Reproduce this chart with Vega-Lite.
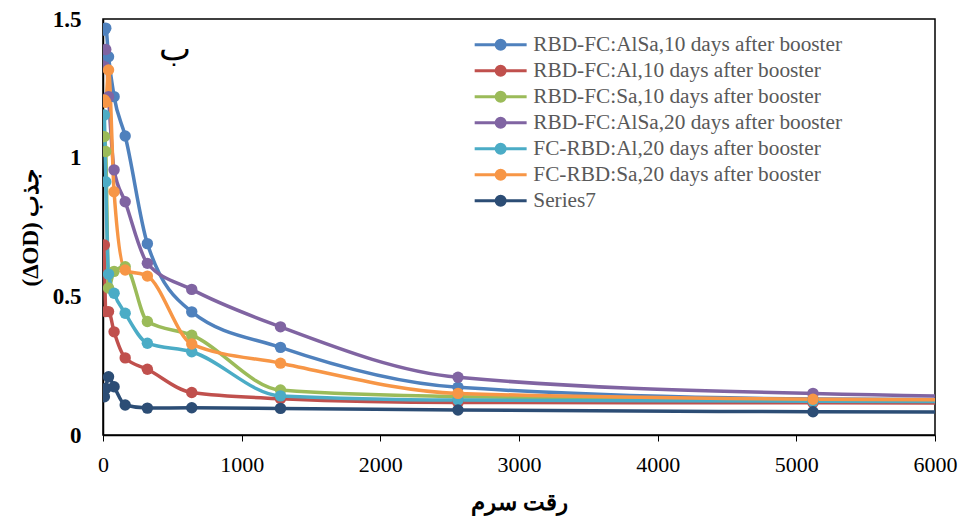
{
  "$schema": "https://vega.github.io/schema/vega-lite/v6.json",
  "width": 832,
  "height": 416,
  "autosize": "none",
  "padding": {"left": 103, "top": 19, "right": 33, "bottom": 89},
  "background": "white",
  "config": {
    "view": {"stroke": "black", "strokeWidth": 1.5},
    "font": "Liberation Serif"
  },
  "datasets": {
    "series": [
      {"s": "RBD-FC:AlSa,10 days after booster", "x": 10, "y": 1.46},
      {"s": "RBD-FC:AlSa,10 days after booster", "x": 20, "y": 1.467},
      {"s": "RBD-FC:AlSa,10 days after booster", "x": 40, "y": 1.364},
      {"s": "RBD-FC:AlSa,10 days after booster", "x": 80, "y": 1.22},
      {"s": "RBD-FC:AlSa,10 days after booster", "x": 160, "y": 1.078},
      {"s": "RBD-FC:AlSa,10 days after booster", "x": 320, "y": 0.69},
      {"s": "RBD-FC:AlSa,10 days after booster", "x": 640, "y": 0.444},
      {"s": "RBD-FC:AlSa,10 days after booster", "x": 1280, "y": 0.316},
      {"s": "RBD-FC:AlSa,10 days after booster", "x": 2560, "y": 0.172},
      {"s": "RBD-FC:AlSa,10 days after booster", "x": 5120, "y": 0.13},
      {"s": "RBD-FC:AlSa,10 days after booster", "x": 10240, "y": 0.12},

      {"s": "RBD-FC:Al,10 days after booster", "x": 10, "y": 0.685},
      {"s": "RBD-FC:Al,10 days after booster", "x": 20, "y": 0.445},
      {"s": "RBD-FC:Al,10 days after booster", "x": 40, "y": 0.445},
      {"s": "RBD-FC:Al,10 days after booster", "x": 80, "y": 0.372},
      {"s": "RBD-FC:Al,10 days after booster", "x": 160, "y": 0.278},
      {"s": "RBD-FC:Al,10 days after booster", "x": 320, "y": 0.237},
      {"s": "RBD-FC:Al,10 days after booster", "x": 640, "y": 0.153},
      {"s": "RBD-FC:Al,10 days after booster", "x": 1280, "y": 0.131},
      {"s": "RBD-FC:Al,10 days after booster", "x": 2560, "y": 0.117},
      {"s": "RBD-FC:Al,10 days after booster", "x": 5120, "y": 0.116},
      {"s": "RBD-FC:Al,10 days after booster", "x": 10240, "y": 0.11},

      {"s": "RBD-FC:Sa,10 days after booster", "x": 10, "y": 1.076},
      {"s": "RBD-FC:Sa,10 days after booster", "x": 20, "y": 1.022},
      {"s": "RBD-FC:Sa,10 days after booster", "x": 40, "y": 0.53},
      {"s": "RBD-FC:Sa,10 days after booster", "x": 80, "y": 0.59},
      {"s": "RBD-FC:Sa,10 days after booster", "x": 160, "y": 0.607},
      {"s": "RBD-FC:Sa,10 days after booster", "x": 320, "y": 0.409},
      {"s": "RBD-FC:Sa,10 days after booster", "x": 640, "y": 0.36},
      {"s": "RBD-FC:Sa,10 days after booster", "x": 1280, "y": 0.162},
      {"s": "RBD-FC:Sa,10 days after booster", "x": 2560, "y": 0.138},
      {"s": "RBD-FC:Sa,10 days after booster", "x": 5120, "y": 0.127},
      {"s": "RBD-FC:Sa,10 days after booster", "x": 10240, "y": 0.12},

      {"s": "RBD-FC:AlSa,20 days after booster", "x": 10, "y": 1.328},
      {"s": "RBD-FC:AlSa,20 days after booster", "x": 20, "y": 1.39},
      {"s": "RBD-FC:AlSa,20 days after booster", "x": 40, "y": 1.22},
      {"s": "RBD-FC:AlSa,20 days after booster", "x": 80, "y": 0.956},
      {"s": "RBD-FC:AlSa,20 days after booster", "x": 160, "y": 0.841},
      {"s": "RBD-FC:AlSa,20 days after booster", "x": 320, "y": 0.619},
      {"s": "RBD-FC:AlSa,20 days after booster", "x": 640, "y": 0.525},
      {"s": "RBD-FC:AlSa,20 days after booster", "x": 1280, "y": 0.39},
      {"s": "RBD-FC:AlSa,20 days after booster", "x": 2560, "y": 0.208},
      {"s": "RBD-FC:AlSa,20 days after booster", "x": 5120, "y": 0.15},
      {"s": "RBD-FC:AlSa,20 days after booster", "x": 10240, "y": 0.12},

      {"s": "FC-RBD:Al,20 days after booster", "x": 10, "y": 1.154},
      {"s": "FC-RBD:Al,20 days after booster", "x": 20, "y": 0.913},
      {"s": "FC-RBD:Al,20 days after booster", "x": 40, "y": 0.58},
      {"s": "FC-RBD:Al,20 days after booster", "x": 80, "y": 0.511},
      {"s": "FC-RBD:Al,20 days after booster", "x": 160, "y": 0.439},
      {"s": "FC-RBD:Al,20 days after booster", "x": 320, "y": 0.331},
      {"s": "FC-RBD:Al,20 days after booster", "x": 640, "y": 0.3},
      {"s": "FC-RBD:Al,20 days after booster", "x": 1280, "y": 0.141},
      {"s": "FC-RBD:Al,20 days after booster", "x": 2560, "y": 0.126},
      {"s": "FC-RBD:Al,20 days after booster", "x": 5120, "y": 0.122},
      {"s": "FC-RBD:Al,20 days after booster", "x": 10240, "y": 0.115},

      {"s": "FC-RBD:Sa,20 days after booster", "x": 10, "y": 1.208},
      {"s": "FC-RBD:Sa,20 days after booster", "x": 20, "y": 1.2},
      {"s": "FC-RBD:Sa,20 days after booster", "x": 40, "y": 1.316},
      {"s": "FC-RBD:Sa,20 days after booster", "x": 80, "y": 0.877},
      {"s": "FC-RBD:Sa,20 days after booster", "x": 160, "y": 0.595},
      {"s": "FC-RBD:Sa,20 days after booster", "x": 320, "y": 0.573},
      {"s": "FC-RBD:Sa,20 days after booster", "x": 640, "y": 0.328},
      {"s": "FC-RBD:Sa,20 days after booster", "x": 1280, "y": 0.259},
      {"s": "FC-RBD:Sa,20 days after booster", "x": 2560, "y": 0.15},
      {"s": "FC-RBD:Sa,20 days after booster", "x": 5120, "y": 0.129},
      {"s": "FC-RBD:Sa,20 days after booster", "x": 10240, "y": 0.12},

      {"s": "Series7", "x": 10, "y": 0.138},
      {"s": "Series7", "x": 20, "y": 0.168},
      {"s": "Series7", "x": 40, "y": 0.21},
      {"s": "Series7", "x": 80, "y": 0.174},
      {"s": "Series7", "x": 160, "y": 0.108},
      {"s": "Series7", "x": 320, "y": 0.097},
      {"s": "Series7", "x": 640, "y": 0.098},
      {"s": "Series7", "x": 1280, "y": 0.096},
      {"s": "Series7", "x": 2560, "y": 0.09},
      {"s": "Series7", "x": 5120, "y": 0.084},
      {"s": "Series7", "x": 10240, "y": 0.08}
    ],
    "note": [{"label": "ب", "nx": 520, "ny": 1.39}]
  },
  "encoding": {
    "x": {
      "type": "quantitative",
      "scale": {"domain": [0, 6000], "nice": false, "zero": true},
      "axis": {
        "title": "رقت سرم",
        "values": [0, 1000, 2000, 3000, 4000, 5000, 6000],
        "format": "d",
        "grid": false,
        "domainColor": "black", "domainWidth": 1.5,
        "tickColor": "black", "tickSize": 6, "tickWidth": 1,
        "labelFont": "Liberation Serif", "labelFontSize": 22, "labelColor": "black",
        "labelPadding": 13, "labelFlush": false,
        "titleFont": "Liberation Serif", "titleFontSize": 23, "titleFontWeight": "bold",
        "titleColor": "black", "titlePadding": 16
      }
    },
    "y": {
      "type": "quantitative",
      "scale": {"domain": [0, 1.5], "nice": false},
      "axis": {
        "title": "(ΔOD) جذب",
        "values": [0, 0.5, 1, 1.5],
        "format": ".1~f",
        "grid": false,
        "ticks": false,
        "domainColor": "black", "domainWidth": 1.5,
        "labelFont": "Liberation Serif", "labelFontSize": 23, "labelFontWeight": "bold",
        "labelColor": "black", "labelPadding": 22, "labelFlush": false,
        "titleFont": "Liberation Serif", "titleFontSize": 23, "titleFontWeight": "bold",
        "titleColor": "black", "titlePadding": 10
      }
    }
  },
  "layer": [
    {
      "data": {"name": "series"},
      "mark": {"type": "line", "interpolate": "monotone", "strokeWidth": 3.5, "clip": true},
      "encoding": {
        "x": {"field": "x", "type": "quantitative"},
        "y": {"field": "y", "type": "quantitative"},
        "color": {
          "field": "s", "type": "nominal",
          "scale": {
            "domain": [
              "RBD-FC:AlSa,10 days after booster",
              "RBD-FC:Al,10 days after booster",
              "RBD-FC:Sa,10 days after booster",
              "RBD-FC:AlSa,20 days after booster",
              "FC-RBD:Al,20 days after booster",
              "FC-RBD:Sa,20 days after booster",
              "Series7"
            ],
            "range": ["#4F81BD", "#C0504D", "#9BBB59", "#8064A2", "#4BACC6", "#F79646", "#2C4D75"]
          },
          "legend": {
            "title": null,
            "orient": "none",
            "legendX": 387,
            "legendY": 15,
            "padding": 0,
            "symbolType": "M-3,0L-0.52,0M0.52,0L3,0M-0.52,0A0.52,0.52 0 1,0 0.52,0A0.52,0.52 0 1,0 -0.52,0Z",
            "symbolSize": 300,
            "symbolStrokeWidth": 3,
            "labelFont": "Liberation Serif",
            "labelFontSize": 21.3,
            "labelColor": "#595959",
            "labelOffset": 22,
            "rowPadding": 3,
            "labelLimit": 400,
            "encode": {
              "symbols": {"update": {"fill": {"scale": "color", "field": "value"}, "fillOpacity": {"value": 1}}}
            }
          }
        }
      }
    },
    {
      "data": {"name": "series"},
      "mark": {"type": "circle", "size": 130, "opacity": 1, "clip": true},
      "encoding": {
        "x": {"field": "x", "type": "quantitative"},
        "y": {"field": "y", "type": "quantitative"},
        "color": {"field": "s", "type": "nominal"}
      }
    },
    {
      "data": {"name": "note"},
      "mark": {"type": "text", "fontSize": 34, "font": "Liberation Serif", "color": "black"},
      "encoding": {
        "x": {"field": "nx", "type": "quantitative"},
        "y": {"field": "ny", "type": "quantitative"},
        "text": {"field": "label"}
      }
    }
  ]
}
